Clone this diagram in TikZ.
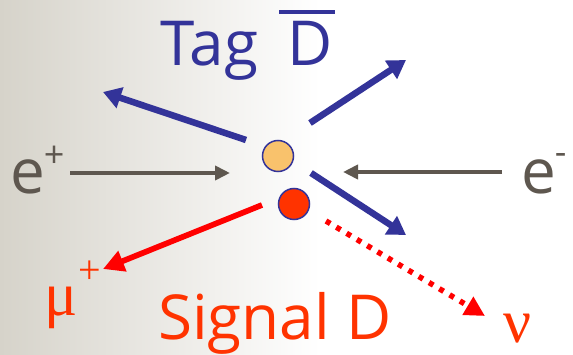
\documentclass[tikz,border=0pt]{standalone}
\usepackage{fontspec}
\setmainfont{Open Sans}
\newfontfamily\greekfont{Liberation Serif}
\usetikzlibrary{arrows.meta}
\definecolor{tagblue}{HTML}{333399}
\definecolor{sigred}{HTML}{FF3300}
\definecolor{arrred}{HTML}{FF0000}
\definecolor{beamgray}{HTML}{5E574F}
\definecolor{bggray}{HTML}{D6D3CA}
\definecolor{dorange}{HTML}{F9C26C}
\tikzset{
  bluearr/.style={draw=tagblue, line width=6.5pt, -{Triangle[length=18pt,width=21pt]}},
  beamarr/.style={draw=beamgray, line width=4.3pt, -{Triangle[length=15pt,width=14pt]}},
  redarr/.style={draw=arrred, line width=5.7pt, -{Triangle[length=21pt,width=21pt]}},
  nuarr/.style={draw=arrred, line width=5.5pt, dash pattern=on 5pt off 7pt, -{Triangle[length=20pt,width=20pt]}},
  meson/.style={circle, draw=tagblue, line width=1.5pt, minimum size=31pt, inner sep=0pt},
  bigtxt/.style={inner sep=0pt, anchor=base west, font=\fontsize{62}{62}\selectfont},
  etxt/.style={inner sep=0pt, anchor=base west, text=beamgray, font=\fontsize{62}{62}\selectfont},
  grtxt/.style={inner sep=0pt, anchor=base west, text=sigred, font=\greekfont\fontsize{62}{62}\selectfont},
}
\begin{document}
\begin{tikzpicture}[x=1pt,y=-1pt]
\useasboundingbox (0,0) rectangle (573,355);
\shade[left color=bggray, right color=white] (0,0) rectangle (320,355);
\fill[white] (320,0) rectangle (573,355);
% mesons
\node[meson, fill=dorange] (tagD) at (278,156) {};
\node[meson, fill=sigred] (sigD) at (294,204) {};
% labels
\node[bigtxt, text=tagblue] (tag) at (160,66) {Tag};
\node[bigtxt, text=tagblue] (dbar) at (287,66) {D};
\draw[tagblue, line width=4pt] ([yshift=10pt,xshift=-8pt]dbar.north west) -- ([yshift=10pt,xshift=2pt]dbar.north east);
\node[bigtxt, text=sigred] (signal) at (158,340) {Signal D};
\node[etxt] (eplus) at (10,194) {e\kern-1pt\raisebox{0.42em}{\fontsize{36}{36}\selectfont +}};
\node[etxt] (eminus) at (521,194) {e\kern-1pt\raisebox{0.48em}{\fontsize{36}{36}\selectfont -}};
\node[grtxt] (mu) at (44,316) {μ\kern1pt\raisebox{0.52em}{\fontsize{40}{40}\selectfont +}};
\node[grtxt] (nu) at (503,342) {ν};
% arrow end points
\coordinate (ulA) at (246,140);  \coordinate (ulB) at (103,92);
\coordinate (urA) at (310,123);  \coordinate (urB) at (406,60);
\coordinate (lrA) at (311,173);  \coordinate (lrB) at (406,235);
\coordinate (epA) at (70,173);   \coordinate (epB) at (230,173);
\coordinate (emA) at (502,172);  \coordinate (emB) at (343,172);
\coordinate (muA) at (262,205);  \coordinate (muB) at (103,269);
\coordinate (nuA) at (326,221);  \coordinate (nuB) at (485,316);
% arrows
\draw[bluearr] (ulA) -- (ulB);
\draw[bluearr] (urA) -- (urB);
\draw[bluearr] (lrA) -- (lrB);
\draw[beamarr] (epA) -- (epB);
\draw[beamarr] (emA) -- (emB);
\draw[redarr] (muA) -- (muB);
\draw[nuarr] (nuA) -- (nuB);
\end{tikzpicture}
\end{document}
